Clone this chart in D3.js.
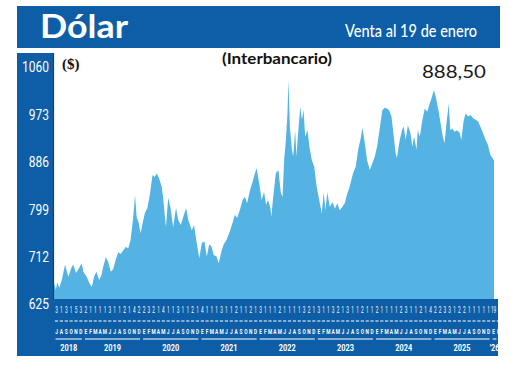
<!DOCTYPE html>
<html>
<head>
<meta charset="utf-8">
<script src="https://cdn.jsdelivr.net/npm/d3@7"></script>
<style>
  body { margin: 0; background: #fff; }
  svg { display: block; }
</style>
</head>
<body>
<svg id="chart" width="520" height="371"></svg>
<script>
// dólar interbancario, venta
const dates = [
  "2018-07-01","2018-07-13","2018-07-21","2018-08-03","2018-08-18","2018-09-08","2018-09-29","2018-10-20","2018-10-30","2018-11-16","2018-12-01","2018-12-22",
  "2019-01-01","2019-01-22","2019-02-08","2019-02-23","2019-03-09","2019-03-24","2019-04-10","2019-04-25","2019-05-05","2019-05-22","2019-06-06","2019-06-22","2019-07-07","2019-07-23","2019-08-08","2019-08-22","2019-09-08","2019-09-25","2019-10-09","2019-10-24","2019-11-10","2019-11-21","2019-12-01","2019-12-14","2019-12-26",
  "2020-01-08","2020-01-22","2020-02-07","2020-02-23","2020-03-10","2020-03-24","2020-04-05","2020-04-21","2020-05-06","2020-05-15","2020-06-02","2020-06-16","2020-07-01","2020-07-17","2020-08-04","2020-08-18","2020-09-03","2020-09-19","2020-10-06","2020-10-20","2020-11-11","2020-11-25","2020-12-12","2020-12-28",
  "2021-01-13","2021-01-29","2021-02-13","2021-02-28","2021-03-14","2021-03-28","2021-04-15","2021-04-29","2021-05-16","2021-05-30","2021-06-17","2021-07-07","2021-07-24","2021-08-08","2021-08-22","2021-09-09","2021-09-26","2021-10-10","2021-10-24","2021-11-11","2021-11-27","2021-12-12","2021-12-22",
  "2022-01-08","2022-01-23","2022-02-07","2022-02-20","2022-03-04","2022-03-19","2022-03-25","2022-04-05","2022-04-22","2022-05-08","2022-05-23","2022-06-03","2022-06-13","2022-06-24","2022-07-04","2022-07-10","2022-07-19","2022-08-01","2022-08-09","2022-08-21","2022-08-29","2022-09-12","2022-09-22","2022-10-03","2022-10-13","2022-10-23","2022-11-07","2022-11-18","2022-12-04","2022-12-19",
  "2023-01-03","2023-01-19","2023-02-04","2023-02-16","2023-02-27","2023-03-11","2023-03-26","2023-04-12","2023-04-28","2023-05-12","2023-05-27","2023-06-13","2023-06-28","2023-07-14","2023-07-29","2023-08-19","2023-09-05","2023-09-20","2023-10-04","2023-10-17","2023-11-01","2023-11-15","2023-12-02","2023-12-18",
  "2024-01-03","2024-01-17","2024-02-04","2024-02-18","2024-03-04","2024-03-19","2024-04-01","2024-04-16","2024-04-28","2024-05-12","2024-05-20","2024-06-07","2024-06-21","2024-07-02","2024-07-14","2024-07-28","2024-08-13","2024-08-25","2024-09-05","2024-09-20","2024-09-28","2024-10-11","2024-10-27","2024-11-11","2024-11-26","2024-12-12","2024-12-26",
  "2025-01-07","2025-01-19","2025-02-04","2025-02-18","2025-03-04","2025-03-15","2025-03-25","2025-04-10","2025-04-20","2025-05-02","2025-05-17","2025-06-01","2025-06-18","2025-06-28","2025-07-12","2025-07-25","2025-08-09","2025-08-24","2025-09-10","2025-09-26","2025-10-11","2025-10-25","2025-11-11","2025-11-28","2025-12-12","2025-12-27",
  "2026-01-19"
];

const rates = [
  663,651,665,655,668,697,675,693,697,682,689,700,
  684,675,663,656,675,684,669,678,693,711,702,684,689,706,720,717,723,730,727,742,785,825,785,774,755,
  774,792,801,828,862,858,865,855,840,821,766,820,801,766,801,779,770,785,801,779,760,770,737,709,
  737,740,712,734,731,715,712,700,722,734,743,758,773,789,783,798,816,822,810,834,849,865,874,
  846,816,831,807,816,801,785,820,865,871,830,821,889,926,975,1036,950,908,896,944,896,950,987,963,981,932,944,914,889,877,
  840,816,791,830,797,830,803,812,800,810,797,803,810,828,840,865,877,908,926,948,920,889,871,883,
  896,914,950,980,985,984,981,969,939,902,893,926,944,951,926,953,939,914,932,908,944,932,963,984,978,993,1005,
  1018,1005,981,957,932,920,951,993,944,947,941,944,939,926,960,975,969,972,966,963,960,951,939,926,917,899,
  888.5
];

const yTicks = [625, 712, 799, 886, 973, 1060];
const monthLetters = ["E","F","M","A","M","J","J","A","S","O","N","D"];
const monthDigits = [
  "3","1","3","1","5","3",
  "2","1","1","1","1","3","1","1","2","1","4","2",
  "2","3","2","1","4","1","1","3","1","1","2","1",
  "4","1","1","1","3","1","1","2","1","1","2","1",
  "3","1","1","1","2","1","1","1","1","3","2","1",
  "3","1","1","3","2","1","3","1","1","2","1","1",
  "2","1","1","1","1","2","3","1","1","2","1","4",
  "2","2","3","3","1","2","2","1","1","1","1","1",
  "19"
];
const years = [2018, 2019, 2020, 2021, 2022, 2023, 2024, 2025, 2026];
const yearLabels = ["2018","2019","2020","2021","2022","2023","2024","2025","'26"];
const lastLabel = "888,50";

const blue = "#0d5ea6",
      areaBlue = "#54b3e3",
      sans = "Roboto, 'DejaVu Sans', sans-serif";

const svg = d3.select("#chart");
const parse = d3.timeParse("%Y-%m-%d");
const data = dates.map((d, i) => ({ date: parse(d), value: rates[i] }));

const start = parse("2018-07-01"), end = parse("2026-01-19");
const x = d3.scaleTime().domain([start, end]).range([54, 494]);
const y = d3.scaleLinear().domain([625, 1060]).range([304, 67]);

// header
svg.append("rect").attr("x", 17).attr("y", 6).attr("width", 483).attr("height", 42).attr("fill", blue);
svg.append("text")
    .attr("x", 40).attr("y", 38)
    .attr("fill", "#fff")
    .attr("textLength", 88).attr("lengthAdjust", "spacingAndGlyphs")
    .style("font", "700 33px Lato, 'Open Sans', sans-serif")
    .text("Dólar");
svg.append("text")
    .attr("x", 477).attr("y", 37)
    .attr("text-anchor", "end")
    .attr("fill", "#fff")
    .attr("textLength", 132).attr("lengthAdjust", "spacingAndGlyphs")
    .style("font", "500 17px Lato, 'Open Sans', sans-serif")
    .text("Venta al 19 de enero");

// area
const area = d3.area()
    .x(d => x(d.date))
    .y0(y(625))
    .y1(d => y(d.value));

svg.append("path")
    .datum(data)
    .attr("fill", areaBlue)
    .attr("d", area);

// bottom and left panels
svg.append("rect").attr("x", 17).attr("y", 299).attr("width", 481).attr("height", 57).attr("fill", blue);
svg.append("rect").attr("x", 17).attr("y", 53).attr("width", 37).attr("height", 303).attr("fill", blue);
svg.append("line")
    .attr("x1", 53.5).attr("x2", 53.5).attr("y1", 53).attr("y2", 299)
    .attr("stroke", "#17406f").attr("stroke-width", 1.2);

// y labels, squeezed horizontally like the condensed original
svg.append("g")
  .selectAll("text")
  .data(yTicks)
  .join("text")
    .attr("transform", d => `translate(49,${y(d)}) scale(0.8,1)`)
    .attr("dy", "0.36em")
    .attr("text-anchor", "end")
    .attr("fill", "#fff")
    .style("font", `15px ${sans}`)
    .text(d => d);

// month axis
const months = d3.timeMonth.range(start, d3.timeMonth.offset(end, 1));
const mid = m => (x(m) + x(d3.timeMonth.offset(m, 1))) / 2;

const axis = svg.append("g").attr("fill", "#fff");

axis.selectAll(".digit")
  .data(months)
  .join("text")
    .attr("class", "digit")
    .attr("transform", d => `translate(${mid(d)},313) scale(0.55,1)`)
    .attr("text-anchor", "middle")
    .style("font", `8.5px ${sans}`)
    .text((d, i) => monthDigits[i]);

axis.selectAll(".dash")
  .data(months)
  .join("rect")
    .attr("class", "dash")
    .attr("x", d => mid(d) - 1.6)
    .attr("y", 320.5)
    .attr("width", 3.2)
    .attr("height", 1);

axis.selectAll(".month")
  .data(months)
  .join("text")
    .attr("class", "month")
    .attr("transform", d => `translate(${mid(d)},334) scale(0.6,1)`)
    .attr("text-anchor", "middle")
    .style("font", `700 8px ${sans}`)
    .text(d => monthLetters[d.getMonth()]);

const yearSpan = yr => {
  const a = Math.max(x(new Date(yr, 0, 1)), x(start));
  const b = Math.min(x(new Date(yr + 1, 0, 1)), x(d3.timeMonth.offset(end, 1)) - 1);
  return [a, b];
};

axis.selectAll(".uline")
  .data(years)
  .join("rect")
    .attr("class", "uline")
    .attr("x", d => yearSpan(d)[0] + 1.5)
    .attr("y", 338.5)
    .attr("width", d => Math.max(2, yearSpan(d)[1] - yearSpan(d)[0] - 3))
    .attr("height", 1);

axis.selectAll(".year")
  .data(years)
  .join("text")
    .attr("class", "year")
    .attr("transform", d => `translate(${(yearSpan(d)[0] + yearSpan(d)[1]) / 2},351) scale(0.82,1)`)
    .attr("text-anchor", "middle")
    .style("font", `700 9px ${sans}`)
    .text((d, i) => yearLabels[i]);

// labels inside the plot
svg.append("text")
    .attr("x", 62).attr("y", 69)
    .style("font", "700 15px 'Liberation Serif', serif")
    .attr("fill", "#111")
    .text("($)");

svg.append("text")
    .attr("x", 277).attr("y", 64)
    .attr("text-anchor", "middle")
    .attr("textLength", 110).attr("lengthAdjust", "spacingAndGlyphs")
    .style("font", "700 15px Lato, 'Open Sans', sans-serif")
    .attr("fill", "#111")
    .text("(Interbancario)");

svg.append("text")
    .attr("x", 486).attr("y", 78)
    .attr("text-anchor", "end")
    .attr("textLength", 64).attr("lengthAdjust", "spacingAndGlyphs")
    .style("font", "400 18px Lato, 'Open Sans', sans-serif")
    .attr("fill", "#1a1a1a")
    .text(lastLabel);
</script>
</body>
</html>
